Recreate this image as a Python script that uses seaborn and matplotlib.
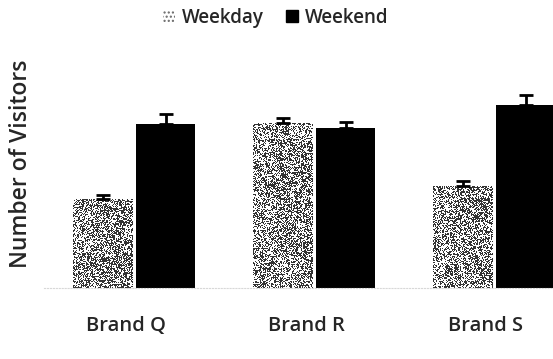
import numpy as np
import pandas as pd
import matplotlib
matplotlib.use("Agg")
import matplotlib.pyplot as plt
import matplotlib.transforms as mtransforms
from matplotlib.patches import Patch
import seaborn as sns

brands = ["Brand Q", "Brand R", "Brand S"]
weekday = [89, 165, 102]
weekend = [164, 160, 183]
weekday_err = [4, 5, 5]
weekend_err = [10, 6, 10]
series = ["Weekday", "Weekend"]

df = pd.DataFrame({
    "Brand": brands * 2,
    "Day": [series[0]] * 3 + [series[1]] * 3,
    "Visitors": weekday + weekend,
})

sns.set_style("white")
plt.rcParams["font.family"] = ["Open Sans", "DejaVu Sans"]
plt.rcParams["font.weight"] = "semibold"

fig = plt.figure(figsize=(5.53, 3.59), dpi=100)
ax = fig.add_axes([44 / 553, 71 / 359, 540 / 553, 200 / 359])

sns.barplot(data=df, x="Brand", y="Visitors", hue="Day", order=brands,
            hue_order=series, palette=["#bfbfbf", "#000000"],
            width=0.7, gap=0.05, errorbar=None, legend=False, ax=ax,
            linewidth=0)

ax.set_xlim(-0.5, 2.5)
ax.set_ylim(0, 200)

# speckle texture for weekday bars
rng = np.random.default_rng(7)
errs = [weekday_err, weekend_err]
bar_containers = list(ax.containers)
for ci, cont in enumerate(bar_containers):
    for bi, p in enumerate(cont.patches):
        x0 = p.get_x()
        w = p.get_width()
        h = p.get_height()
        if ci == 0:
            ny, nx = int(h) + 1, 60
            grad = np.linspace(0.35, 0.6, nx)[None, :]
            blot = rng.random((ny // 6 + 1, nx // 6 + 1))
            blot = np.kron(blot, np.ones((6, 6)))[:ny, :nx]
            prob = 0.22 + 0.35 * blot * 0.6 + grad * 0.35
            tex = (rng.random((ny, nx)) < prob).astype(float)
            tex = 1 - tex * 0.8
            im = ax.imshow(tex, cmap="gray", vmin=0, vmax=1, aspect="auto",
                           extent=(x0, x0 + w, 0, h), interpolation="nearest",
                           zorder=p.get_zorder() + 0.1)
            im.set_clip_path(p)
        ax.errorbar(x0 + w / 2, h, yerr=[[0], [errs[ci][bi]]], fmt="none",
                    ecolor="black", elinewidth=2, capsize=5, capthick=2,
                    zorder=5)

ax.set_xlim(-0.5, 2.5)
ax.set_ylim(0, 200)
ax.set_xlabel("")
ax.set_ylabel("Number of Visitors", fontsize=16.5, fontweight="semibold")
ax.yaxis.set_label_coords(-0.02, 0.62)
ax.set_yticks([])
ax.tick_params(axis="x", length=0, labelsize=14.5, pad=20)
shift = mtransforms.ScaledTranslation(-8 / 100, 0, fig.dpi_scale_trans)
for lab in ax.get_xticklabels():
    lab.set_transform(lab.get_transform() + shift)
for s in ["top", "right", "left"]:
    ax.spines[s].set_visible(False)
ax.spines["bottom"].set_color("#d8d8d8")
ax.spines["bottom"].set_linestyle(":")
ax.spines["bottom"].set_linewidth(0.8)

handles = [Patch(facecolor="white", edgecolor="#666666", hatch="....", linewidth=0),
           Patch(facecolor="black", edgecolor="black")]
fig.legend(handles, series, loc="center", bbox_to_anchor=(276 / 553, 1 - 18 / 359),
           ncol=2, frameon=False, fontsize=13.5, handlelength=0.6, handleheight=0.6,
           handletextpad=0.4, columnspacing=1.2)

fig.savefig("out.png", dpi=100)
